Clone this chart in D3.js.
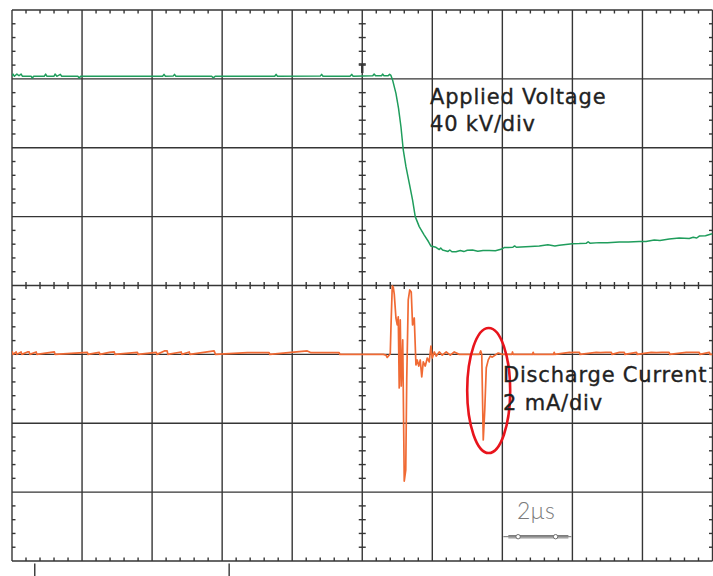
<!DOCTYPE html>
<html>
<head>
<meta charset="utf-8">
<script src="https://cdn.jsdelivr.net/npm/d3@7"></script>
<style>
  body { margin: 0; background: #fff; }
  svg { display: block; }
</style>
</head>
<body>
<script>
// Oscilloscope capture: 2 us/div, ch1 40 kV/div, ch2 2 mA/div
const voltTime = [-10, -9.97, -9.93, -9.86, -9.8, -9.74, -9.7, -9.45, -9.42, -9.38, -9.08, -9.04, -9.0,
  -8.8, -8.77, -8.72, -8.62, -8.58, -8.12, -8.08, -8.04, -5.7, -5.66, -5.62, -5.4, -5.36, -5.32,
  -4.3, -4.25, -4.2, -2.5, -2.46, -2.42, -1.2, -1.16, -1.12, -0.35, -0.3, -0.26, 0.3, 0.34, 0.38,
  0.55, 0.58, 0.62, 0.74, 0.78, 0.819, 0.865, 0.962, 1.036, 1.105, 1.171, 1.248, 1.342, 1.436,
  1.513, 1.627, 1.77, 1.893, 1.961, 2.104, 2.2, 2.24, 2.293, 2.45, 2.5, 2.56, 2.675, 2.8, 2.9, 3.0,
  3.149, 3.3, 3.45, 3.626, 3.8, 3.96, 4.054, 4.3, 4.35, 4.4, 4.8, 5.054, 5.3, 5.5, 5.625, 6.0,
  6.196, 6.4, 6.45, 6.5, 6.767, 7.0, 7.338, 7.6, 7.909, 8.1, 8.337, 8.5, 8.765, 9.05, 9.336,
  9.45, 9.55, 9.622, 9.8, 9.964, 10];
const voltKV = [121.5, 122.8, 121.5, 122.8, 121.8, 122.8, 121.5, 121.5, 120.5, 121.5, 121.5, 122.8, 121.5,
  121.5, 122.8, 121.5, 122.6, 121.5, 121.5, 120.5, 121.5, 121.5, 122.6, 121.5, 121.6, 122.6, 121.5,
  121.5, 120.6, 121.5, 121.5, 122.6, 121.5, 121.6, 122.6, 121.5, 121.5, 122.6, 121.5, 121.8, 122.8, 121.8,
  121.8, 122.8, 121.8, 121.8, 122.6, 122.0, 119.4, 111.6, 102.9, 92.2, 78.7, 69.0, 59.4, 49.7,
  40.0, 34.2, 29.3, 25.4, 22.9, 22.2, 20.9, 21.8, 20.6, 19.8, 20.6, 19.6, 19.6, 20.3, 19.7, 20.5,
  20.6, 19.9, 20.3, 20.3, 20.2, 21.0, 22.0, 22.2, 23.0, 22.2, 22.6, 22.9, 23.6, 23.0, 23.4, 24.3,
  24.4, 24.6, 25.4, 24.6, 24.9, 24.8, 25.3, 25.3, 25.6, 25.5, 26.4, 26.2, 27.0, 27.6, 27.3,
  28.0, 27.6, 28.7, 28.9, 29.9, 30.0];

const currTime = [-10, -9.99, -9.97, -9.88, -9.86, -9.74, -9.72, -9.56, -9.51, -9.49, -9.31, -9.29,
  -8.79, -8.77, -7.85, -7.83, -7.51, -7.49, -7.22, -7.08, -7.06, -6.42, -6.4, -5.88, -5.86,
  -5.65, -5.57, -5.55, -5.17, -5.15, -4.94, -4.92, -4.23, -4.19, -3.28, -3.08, -2.88, -2.66, -2.64,
  -1.57, -1.46, -1.28, -0.94, -0.66, -0.64, 0.6, 0.677, 0.714, 0.771, 0.8, 0.819, 0.857, 0.885,
  0.914, 0.962, 0.999, 1.028, 1.056, 1.085, 1.113, 1.156, 1.199, 1.242, 1.27, 1.313, 1.356, 1.399,
  1.436, 1.485, 1.533, 1.57, 1.613, 1.656, 1.699, 1.742, 1.799, 1.856, 1.913, 1.961, 1.999, 2.056,
  2.113, 2.198, 2.284, 2.398, 2.513, 2.627, 2.77, 3.34, 3.383, 3.412, 3.455, 3.498, 3.541, 3.598,
  3.655, 3.712, 3.797, 3.883, 3.997, 4.27, 4.29, 4.31, 4.86, 4.88, 4.9, 5.46, 5.48, 5.5,
  5.92, 5.96, 6.06, 6.2, 6.22, 6.68, 6.8, 6.95, 7.11, 7.13, 7.34, 7.48, 7.5, 7.83, 7.85,
  8.25, 8.4, 8.55, 8.76, 8.78, 9.25, 9.42, 9.62, 9.64, 9.91, 9.93, 10];
const currMA = [0, 0.07, 0, 0.07, 0, 0.07, 0, 0.07, 0.07, 0, 0.07, 0,
  0.07, 0, 0.06, 0, 0.06, 0, 0.06, 0.07, 0, 0.06, 0, 0.06, 0,
  0.1, 0.1, 0, 0.07, 0, 0.07, 0, 0.1, 0, 0.05, 0.05, 0.05, 0.05, 0,
  0.1, 0.05, 0.05, 0.05, 0.05, 0, 0, -0.02, -0.09, -0.02, 0.02, 0.75, 1.99, 1.95,
  1.75, 1.057, 0.854, 1.09, -0.976, 1.0, -0.92, 0.42, -3.68, -3.36, -0.74, 1.58, 1.87, 1.81,
  0.854, 1.057, -0.308, -0.163, -0.34, -0.163, -0.656, -0.22, -0.34, -0.105, -0.22, 0.24, -0.105, 0.07,
  -0.05, 0.07, -0.02, 0.07, -0.02, 0.07, 0, 0, 0.1, 0, -2.485, -1.61, -0.39, -0.16,
  -0.05, -0.08, -0.02, 0.04, 0, 0, 0.07, 0, 0, 0.06, 0, 0, 0.06, 0,
  0.06, 0.05, 0.06, 0.06, 0, 0.06, 0.05, 0.06, 0.06, 0, 0.06, 0.06, 0, 0.06, 0,
  0.06, 0.05, 0.06, 0.06, 0, 0.06, 0.06, 0.06, 0, 0.06, 0, 0];

const width = 713;
const height = 576;
const plot = { left: 12, right: 712.5, top: 10, bottom: 561 };
const xDivs = 10, yDivs = 8, minorPerDiv = 5;

// scales
const xScale = d3.scaleLinear().domain([-10, 10]).range([plot.left, plot.right]);
const yVolt = d3.scaleLinear().domain([-160, 160]).range([plot.bottom, plot.top]);
const yCurr = d3.scaleLinear().domain([-6, 10]).range([plot.bottom, plot.top]);
const xDiv = d3.scaleLinear().domain([0, xDivs]).range([plot.left, plot.right]);
const yDiv = d3.scaleLinear().domain([0, yDivs]).range([plot.top, plot.bottom]);

const svg = d3.select("body").append("svg")
  .attr("width", width)
  .attr("height", height)
  .attr("viewBox", [0, 0, width, height]);

svg.append("defs").append("clipPath").attr("id", "plotclip")
  .append("rect")
  .attr("x", plot.left).attr("y", plot.top)
  .attr("width", plot.right - plot.left).attr("height", plot.bottom - plot.top);

const gridColor = "#353535";
const grid = svg.append("g").attr("stroke", gridColor).attr("stroke-width", 1.4);

// main graticule
grid.selectAll(".vline").data(d3.range(0, xDivs + 1)).join("line")
  .attr("class", "vline")
  .attr("x1", d => xDiv(d)).attr("x2", d => xDiv(d))
  .attr("y1", plot.top).attr("y2", plot.bottom);
grid.selectAll(".hline").data(d3.range(0, yDivs + 1)).join("line")
  .attr("class", "hline")
  .attr("x1", plot.left).attr("x2", plot.right)
  .attr("y1", d => yDiv(d)).attr("y2", d => yDiv(d));

// minor ticks
const xMinor = d3.range(0, xDivs * minorPerDiv).filter(i => i % minorPerDiv !== 0).map(i => i / minorPerDiv);
const yMinor = d3.range(0, yDivs * minorPerDiv).filter(i => i % minorPerDiv !== 0).map(i => i / minorPerDiv);
const ticks = svg.append("g").attr("stroke", gridColor).attr("stroke-width", 1.4);
const cx = xDiv(xDivs / 2), cy = yDiv(yDivs / 2);

function hTicks(y, up, down) {
  ticks.append("g").selectAll("line").data(xMinor).join("line")
    .attr("x1", d => xDiv(d)).attr("x2", d => xDiv(d))
    .attr("y1", y - up).attr("y2", y + down);
}
function vTicks(x, left, right) {
  ticks.append("g").selectAll("line").data(yMinor).join("line")
    .attr("y1", d => yDiv(d)).attr("y2", d => yDiv(d))
    .attr("x1", x - left).attr("x2", x + right);
}
hTicks(plot.top, 0, 3.5);
hTicks(plot.bottom, 3.5, 0);
hTicks(cy, 3.5, 3.5);
vTicks(plot.left, 0, 3.5);
vTicks(plot.right, 3.5, 0);
vTicks(cx, 3.5, 3.5);

// trigger level marker
ticks.append("line").attr("x1", cx - 3.5).attr("x2", cx + 3.5).attr("y1", 64).attr("y2", 64).attr("stroke-width", 1.6);
ticks.append("line").attr("x1", cx).attr("x2", cx).attr("y1", 64).attr("y2", 73).attr("stroke-width", 2.4);

// markers below the screen
ticks.selectAll(".mark").data([-9.35, -3.8]).join("line")
  .attr("class", "mark")
  .attr("x1", d => xScale(d)).attr("x2", d => xScale(d))
  .attr("y1", plot.bottom + 2.5).attr("y2", height);

// traces
const traces = svg.append("g").attr("clip-path", "url(#plotclip)");
const voltData = voltTime.map((t, i) => [t, voltKV[i]]);
const currData = currTime.map((t, i) => [t, currMA[i]]);

traces.append("path")
  .attr("fill", "none")
  .attr("stroke", "#f06a34")
  .attr("stroke-width", 1.7)
  .attr("stroke-linejoin", "round")
  .attr("d", d3.line().x(d => xScale(d[0])).y(d => yCurr(d[1]))(currData));

traces.append("path")
  .attr("fill", "none")
  .attr("stroke", "#1f9d5c")
  .attr("stroke-width", 1.5)
  .attr("stroke-linejoin", "round")
  .attr("d", d3.line().x(d => xScale(d[0])).y(d => yVolt(d[1]))(voltData));

// highlight around the second current pulse
svg.append("ellipse")
  .attr("cx", xScale(3.61)).attr("cy", yCurr(-1.05))
  .attr("rx", 21.5).attr("ry", 62.5)
  .attr("fill", "none")
  .attr("stroke", "#e8141c")
  .attr("stroke-width", 2.6);

// labels
const labels = svg.append("g")
  .attr("font-family", "DejaVu Sans, sans-serif")
  .attr("font-size", 21)
  .attr("letter-spacing", 0.8)
  .attr("fill", "#222")
  .attr("stroke", "#222")
  .attr("stroke-width", 0.35);
labels.append("text").attr("x", 430).attr("y", 104).text("Applied Voltage");
labels.append("text").attr("x", 430).attr("y", 131).text("40 kV/div");
labels.append("text").attr("x", 503).attr("y", 382).text("Discharge Current");
labels.append("text").attr("x", 503).attr("y", 410).text("2 mA/div");

// time scale bar
const bar = svg.append("g").attr("stroke", "#6e6e6e").attr("fill", "none");
const barY = 536.7;
const b0 = xScale(4.0), b1 = xScale(6.0);
bar.append("line").attr("x1", b0 + 1).attr("x2", b1 - 1).attr("y1", barY).attr("y2", barY).attr("stroke-width", 1);
bar.append("line").attr("x1", b0 + 6).attr("x2", b1 - 4).attr("y1", barY - 1.2).attr("y2", barY - 1.2).attr("stroke-width", 0.9);
bar.append("line").attr("x1", b0 + 6).attr("x2", b1 - 4).attr("y1", barY + 1.2).attr("y2", barY + 1.2).attr("stroke-width", 0.9);
bar.selectAll("circle").data([4.45, 5.52]).join("circle")
  .attr("cx", d => xScale(d)).attr("cy", barY).attr("r", 2.2)
  .attr("fill", "#fff").attr("stroke-width", 1);
svg.append("text")
  .attr("x", 517).attr("y", 519)
  .attr("font-family", "Lato, Liberation Sans, sans-serif")
  .attr("font-weight", 300)
  .attr("font-size", 23)
  .attr("fill", "#7a7a7a")
  .text("2µs");
</script>
</body>
</html>
